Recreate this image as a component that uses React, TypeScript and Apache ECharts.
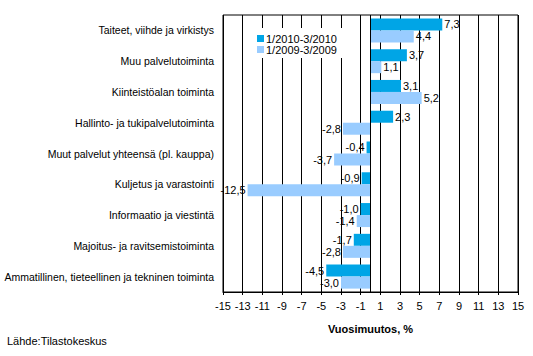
import React, { useEffect, useRef } from "react";
import * as echarts from "echarts";

const categories = [
  "Taiteet, viihde ja virkistys",
  "Muu palvelutoiminta",
  "Kiinteistöalan toiminta",
  "Hallinto- ja tukipalvelutoiminta",
  "Muut palvelut yhteensä (pl. kauppa)",
  "Kuljetus ja varastointi",
  "Informaatio ja viestintä",
  "Majoitus- ja ravitsemistoiminta",
  "Ammatillinen, tieteellinen ja tekninen toiminta",
];
const seriesNames = ["1/2010-3/2010", "1/2009-3/2009"];
const values2010 = [7.3, 3.7, 3.1, 2.3, -0.4, -0.9, -1.0, -1.7, -4.5];
const values2009 = [4.4, 1.1, 5.2, -2.8, -3.7, -12.5, -1.4, -2.8, -3.0];
const xTicks = [-15, -13, -11, -9, -7, -5, -3, -1, 1, 3, 5, 7, 9, 11, 13, 15];
const axisTitle = "Vuosimuutos, %";
const sourceText = "Lähde:Tilastokeskus";

const FONT = "'Liberation Sans', Arial, sans-serif";
const fmt = (v: number) => v.toFixed(1).replace(".", ",");

const mkData = (vals: number[]) =>
  vals.map((v) => ({
    value: v,
    label: { position: v < 0 ? "left" : "right" },
  }));

export default function App() {
  const ref = useRef<HTMLDivElement>(null);
  useEffect(() => {
    if (!ref.current) return;
    const chart = echarts.init(ref.current, undefined, { renderer: "svg" });
    const labelCfg = {
      show: true,
      distance: 2,
      color: "#000",
      fontFamily: FONT,
      fontSize: 11,
      formatter: (p: any) => fmt(p.value),
    };
    chart.setOption({
      animation: false,
      backgroundColor: "#fff",
      grid: {
        left: 223,
        right: 15,
        top: 15,
        bottom: 64,
        outerBoundsMode: "none",
        containLabel: false,
        show: true,
        borderColor: "#000",
        borderWidth: 1,
        backgroundColor: "transparent",
      },
      legend: {
        left: 245,
        top: 28,
        orient: "vertical",
        backgroundColor: "#fff",
        padding: [5, 22, 3, 12],
        itemGap: 0,
        icon: "rect",
        itemWidth: 7,
        itemHeight: 7,
        textStyle: {
          fontFamily: FONT,
          fontSize: 11,
          color: "#000",
          lineHeight: 11,
          padding: [0, 0, 0, -3],
        },
        data: seriesNames,
        z: 10,
      },
      xAxis: {
        type: "value",
        min: -15,
        max: 15,
        name: axisTitle,
        nameLocation: "middle",
        nameGap: 31,
        nameTextStyle: {
          fontFamily: FONT,
          fontSize: 11,
          fontWeight: "bold",
          color: "#000",
        },
        axisLine: { show: true, lineStyle: { color: "#000", width: 1 } },
        axisTick: {
          show: true,
          length: 3,
          lineStyle: { color: "#000" },
          customValues: xTicks,
        },
        axisLabel: {
          customValues: xTicks,
          margin: 8,
          fontFamily: FONT,
          fontSize: 11,
          color: "#000",
        },
        splitLine: { show: true, lineStyle: { color: "#000", width: 1 } },
      },
      yAxis: {
        type: "category",
        inverse: true,
        data: categories,
        axisLine: { show: false, onZero: false },
        axisTick: { show: false },
        splitLine: { show: false },
        axisLabel: {
          margin: 9,
          fontFamily: FONT,
          fontSize: 10.5,
          color: "#000",
        },
      },
      series: [
        {
          name: seriesNames[0],
          type: "bar",
          data: mkData(values2010),
          itemStyle: { color: "#00a5e6" },
          barGap: "0%",
          barCategoryGap: "22%",
          label: labelCfg,
          markLine: {
            silent: true,
            symbol: "none",
            label: { show: false },
            lineStyle: { color: "#000", width: 1, type: "solid" },
            data: [{ xAxis: 0 }],
          },
        },
        {
          name: seriesNames[1],
          type: "bar",
          data: mkData(values2009),
          itemStyle: { color: "#99ccff" },
          barGap: "0%",
          barCategoryGap: "22%",
          label: labelCfg,
        },
      ],
      graphic: [
        {
          type: "text",
          left: 7,
          top: 335,
          style: {
            text: sourceText,
            fontFamily: FONT,
            fontSize: 11,
            fill: "#000",
          },
        },
      ],
    });
    return () => chart.dispose();
  }, []);
  return (
    <div
      ref={ref}
      style={{ position: "fixed", left: 0, top: 0, width: 533, height: 356 }}
    />
  );
}
